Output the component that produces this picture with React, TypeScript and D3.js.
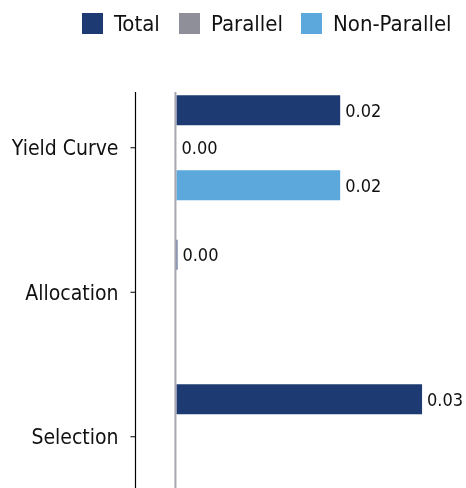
import * as d3 from "d3";
import React, { RefObject, useEffect, useRef } from "react";

const categories = ["Yield Curve", "Allocation", "Selection"];
const seriesNames = ["Total", "Parallel", "Non-Parallel"];
const seriesColors = ["#1d3b72", "#8f8f99", "#5ca8dd"];
// values per category; null = no bar
const totalValues = [0.02, 0.00012, 0.03];
const parallelValues: (number | null)[] = [0.0, null, null];
const nonParallelValues: (number | null)[] = [0.02, null, null];

const W = 466;
const H = 488;
const FONT = "'DejaVu Sans Condensed', 'DejaVu Sans', sans-serif";

const App = () => {
  const d3Ref: RefObject<HTMLDivElement> = useRef(null);

  useEffect(() => {
    const root = d3.select(d3Ref.current);
    root.selectAll("*").remove();
    const svg = root
      .append("svg")
      .attr("width", W)
      .attr("height", H)
      .style("display", "block")
      .style("position", "fixed")
      .style("left", "0px")
      .style("top", "0px");

    const x = d3.scaleLinear().domain([-0.005, 0.035]).range([135.5, 463]);
    const y = d3.scaleBand().domain(categories).range([75.5, 509]).padding(0);
    const inner = d3
      .scaleBand()
      .domain(seriesNames)
      .range([0, 112.5])
      .paddingInner(0.2)
      .paddingOuter(0.1);

    const rows = categories.map((c, i) => ({
      cat: c,
      vals: [totalValues[i], parallelValues[i], nonParallelValues[i]],
    }));

    const txt = (sel: any, size: number) =>
      sel
        .attr("font-family", FONT)
        .attr("font-stretch", "condensed")
        .attr("font-size", size)
        .attr("fill", "#111");

    // y axis
    const axisTop = 92;
    svg
      .append("line")
      .attr("x1", x(-0.005))
      .attr("x2", x(-0.005))
      .attr("y1", axisTop)
      .attr("y2", H)
      .attr("stroke", "#000")
      .attr("stroke-width", 1.2);

    categories.forEach((c) => {
      const cy = (y(c) as number) + y.bandwidth() / 2;
      svg
        .append("line")
        .attr("x1", x(-0.005) - 5)
        .attr("x2", x(-0.005))
        .attr("y1", cy)
        .attr("y2", cy)
        .attr("stroke", "#000");
      txt(svg.append("text"), 21)
        .attr("x", x(-0.005) - 17)
        .attr("y", cy)
        .attr("dy", "0.35em")
        .attr("text-anchor", "end")
        .text(c);
    });

    // bars
    rows.forEach((r) => {
      const cy = (y(r.cat) as number) + y.bandwidth() / 2;
      const g0 = cy - 56.25;
      r.vals.forEach((v, j) => {
        if (v === null || v === undefined) return;
        const by = g0 + (inner(seriesNames[j]) as number);
        const x0 = x(Math.min(0, v));
        const x1 = x(Math.max(0, v));
        svg
          .append("rect")
          .attr("x", x0)
          .attr("y", by)
          .attr("width", Math.max(0, x1 - x0))
          .attr("height", inner.bandwidth())
          .attr("fill", seriesColors[j]);
        txt(svg.append("text"), 18)
          .attr("x", x1 + 5)
          .attr("y", by + inner.bandwidth() / 2)
          .attr("dy", "0.35em")
          .text(d3.format(".2f")(v));
      });
    });

    // zero line
    svg
      .append("line")
      .attr("x1", x(0) - 1)
      .attr("x2", x(0) - 1)
      .attr("y1", axisTop)
      .attr("y2", H)
      .attr("stroke", "#a7a7b0")
      .attr("stroke-width", 2);

    // legend
    const legendX = [82, 179, 301];
    seriesNames.forEach((s, i) => {
      const lg = svg.append("g").attr("transform", `translate(${legendX[i]}, 13)`);
      lg.append("rect").attr("width", 21).attr("height", 21).attr("fill", seriesColors[i]);
      txt(lg.append("text"), 22)
        .attr("x", 32)
        .attr("y", 10.5)
        .attr("dy", "0.35em")
        .text(s);
    });
  }, [d3Ref]);

  return <div ref={d3Ref} />;
};

export default App;
